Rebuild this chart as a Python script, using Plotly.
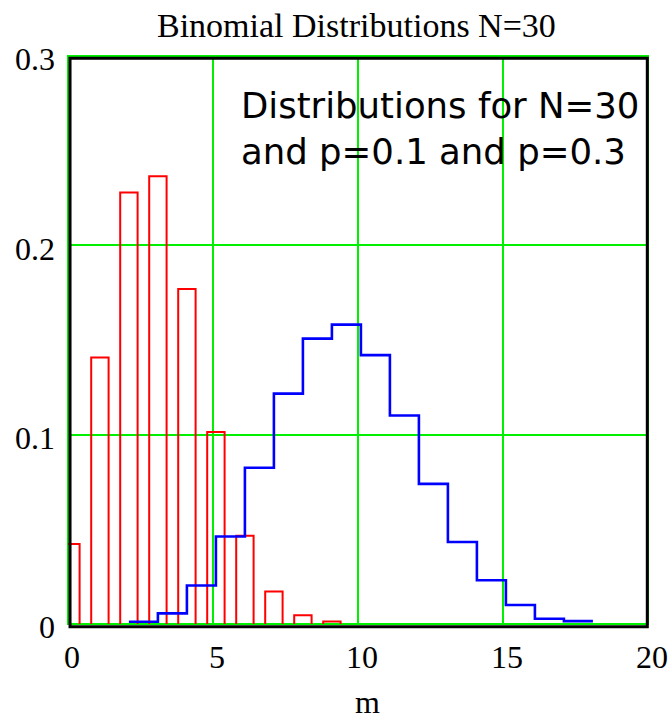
import plotly.graph_objects as go

# ---- data ----
m_red = list(range(0, 10))                      # p = 0.1
p_red = [0.0422, 0.1408, 0.2279, 0.2365, 0.1770, 0.1014, 0.0466, 0.0171, 0.0046, 0.0013]
m_blue = list(range(2, 18))                     # p = 0.3
p_blue = [0.0012, 0.0056, 0.0203, 0.0462, 0.0825, 0.1217, 0.1507, 0.1581,
          0.1420, 0.1101, 0.0740, 0.0433, 0.0231, 0.0100, 0.0028, 0.0015]
x_ticks = [0, 5, 10, 15, 20]
x_labels = ["0", "5", "10", "15", "20"]
y_ticks = [0, 0.1, 0.2, 0.3]
y_labels = ["0", "0.1", "0.2", "0.3"]
title_text = "Binomial Distributions N=30"
note_text = "Distributions for N=30<br>and p=0.1 and p=0.3"
x_title = "m"

# ---- styling ----
OFF = 0.1       # horizontal offset of marks relative to integer m
HALF = 0.3      # half width of the red bars
GREEN = "#00f000"
SERIF = "Liberation Serif"

# red outlined bars (open at the bottom) built from the data
rx, ry = [], []
for m, v in zip(m_red, p_red):
    xc = m + OFF
    rx += [xc - HALF, xc - HALF, xc + HALF, xc + HALF, None]
    ry += [0, v, v, 0, None]

bx = [m + OFF for m in m_blue] + [m_blue[-1] + 1 + OFF]
by = p_blue + [p_blue[-1]]

fig = go.Figure()
fig.add_trace(go.Scatter(x=rx, y=ry, mode="lines",
                         line=dict(color="#ff0000", width=2),
                         hoverinfo="skip", name="p=0.1"))
fig.add_trace(go.Scatter(x=bx, y=by, mode="lines", line_shape="hv",
                         line=dict(color="#0000ff", width=2.6), name="p=0.3"))

fig.update_layout(
    width=670, height=716,
    margin=dict(l=68, r=22, t=56, b=92, autoexpand=False),
    paper_bgcolor="white", plot_bgcolor="white",
    showlegend=False,
    xaxis=dict(range=[0, 20], tickvals=x_ticks, ticktext=x_labels,
               showgrid=True, gridcolor=GREEN, gridwidth=2,
               zeroline=False, showline=False, ticks="", automargin=False,
               tickfont=dict(family=SERIF, size=32, color="black"),
               ticklabelshift=4, ticklabelstandoff=11),
    yaxis=dict(range=[0, 0.3], tickvals=y_ticks, ticktext=y_labels,
               showgrid=True, gridcolor=GREEN, gridwidth=2,
               zeroline=False, showline=False, ticks="", automargin=False,
               tickfont=dict(family=SERIF, size=32, color="black"),
               ticklabelshift=3, ticklabelstandoff=12),
    shapes=[
        dict(type="rect", xref="paper", yref="paper", x0=0, x1=1, y0=0, y1=1,
             line=dict(color=GREEN, width=2), layer="between"),
        dict(type="rect", xref="paper", yref="paper",
             x0=0.0035, x1=0.9988, y0=-0.0047, y1=0.996,
             line=dict(color="black", width=3), layer="above"),
    ],
    annotations=[
        dict(text=title_text, xref="paper", yref="paper", x=0.4978, y=1,
             xanchor="center", yanchor="bottom", yshift=10, showarrow=False,
             font=dict(family=SERIF, size=34, color="black")),
        dict(text=note_text, xref="x", yref="paper", x=5.88, y=0.873,
             xanchor="left", yanchor="middle", align="left", showarrow=False,
             font=dict(family="DejaVu Sans", size=35.5, color="black")),
        dict(text=x_title, xref="paper", yref="paper", x=0.516, y=0,
             xanchor="center", yanchor="top", yshift=-58, showarrow=False,
             font=dict(family=SERIF, size=32, color="black")),
    ],
)

fig.write_html(
    "out.html",
    config={"displayModeBar": False},
    post_script="document.body.style.margin='0';document.body.style.overflow='hidden';",
)
